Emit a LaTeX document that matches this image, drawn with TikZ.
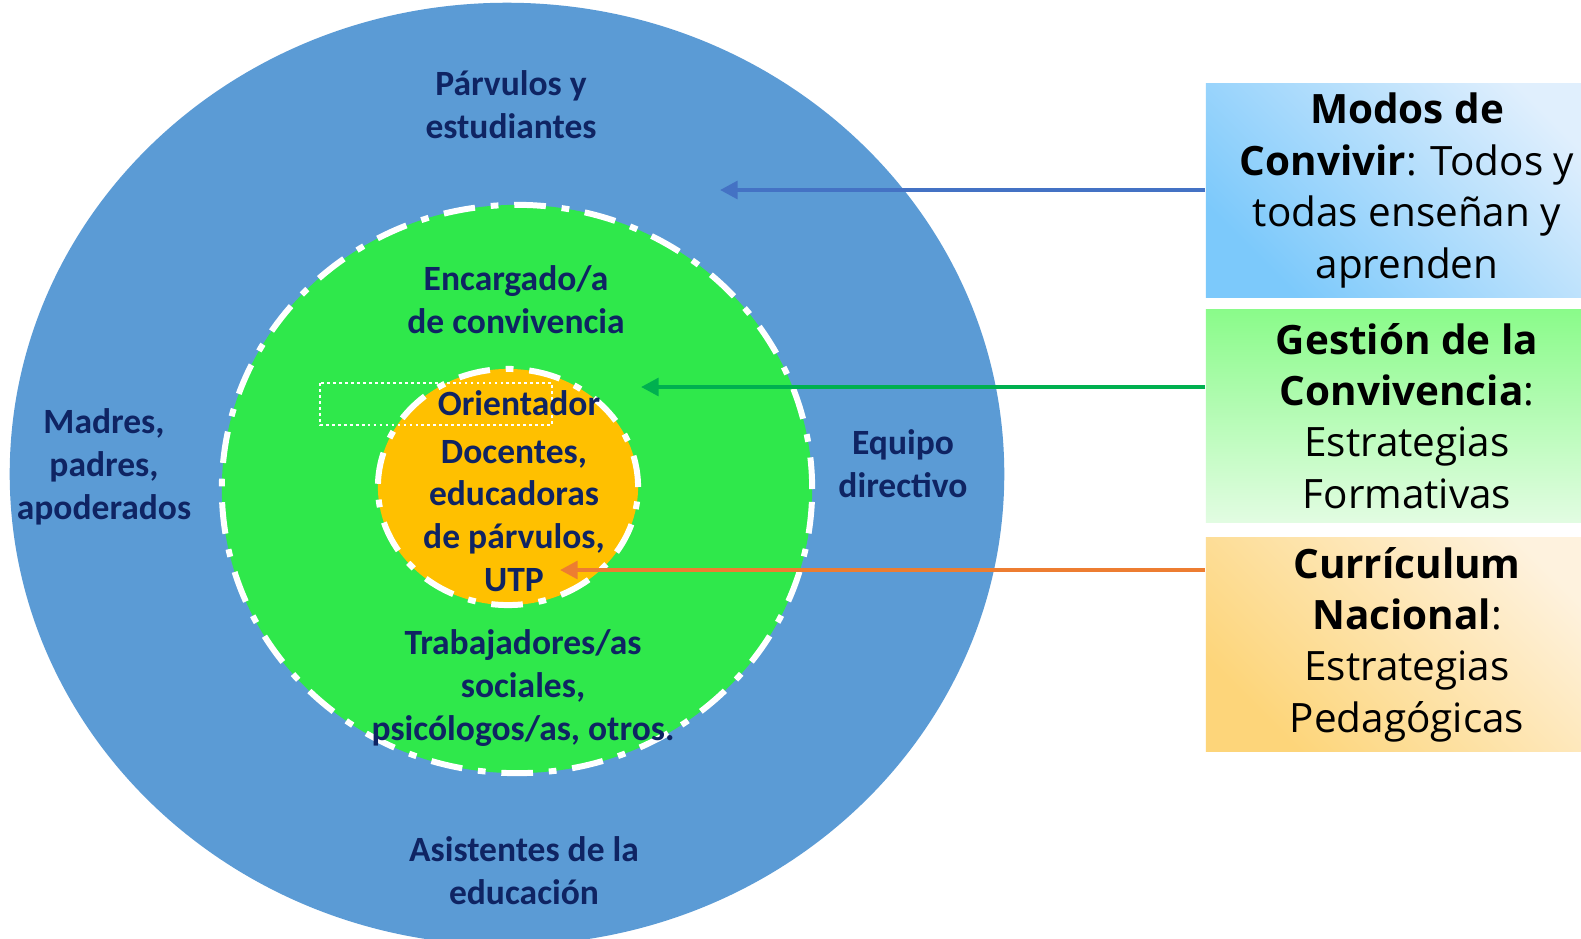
\documentclass[tikz,border=0pt]{standalone}
\usepackage{fontspec}
\setmainfont{Open Sans}
\newfontfamily\ringfont{Carlito}
\usetikzlibrary{arrows.meta,shapes.geometric}

\definecolor{outerblue}{HTML}{5B9BD5}
\definecolor{ringgreen}{HTML}{2FE84B}
\definecolor{coreorange}{HTML}{FFC000}
\definecolor{ringtext}{HTML}{0F2463}
\definecolor{arrblue}{HTML}{4472C4}
\definecolor{arrgreen}{HTML}{00B050}
\definecolor{arrorange}{HTML}{ED7D31}
\definecolor{bboxdark}{HTML}{7CC9FB}
\definecolor{bboxlight}{HTML}{E0EFFD}
\definecolor{gboxdark}{HTML}{8AFB8A}
\definecolor{gboxlight}{HTML}{E2FCE2}
\definecolor{oboxdark}{HTML}{FDD57A}
\definecolor{oboxlight}{HTML}{FEF2DE}

\begin{document}
\begin{tikzpicture}[x=0.01cm,y=-0.01cm,
  ring/.style={font=\ringfont\bfseries\fontsize{10.1}{12.2}\selectfont,text=ringtext,align=center},
  rimline/.style={draw=white,line width=1.7pt,dash pattern=on 9pt off 4.5pt on 2.2pt off 4.5pt},
  infobox/.style={minimum width=4.02cm,minimum height=2.13cm,inner sep=0pt,align=center,
    font=\fontsize{11.5}{14.6}\selectfont},
  link/.style={line width=1.15pt,-{Triangle[length=5pt,width=5pt]}}]
\path[use as bounding box,fill=white] (0,0) rectangle (1581,939);

\node[ellipse,fill=outerblue,minimum width=9.94cm,minimum height=9.42cm] (outer) at (507,474) {};
\node[ellipse,fill=ringgreen,rimline,minimum width=5.9cm,minimum height=5.68cm] (middle) at (517,489) {};
\node[ellipse,fill=coreorange,rimline,minimum width=2.6cm,minimum height=2.36cm] (core) at (508,487) {};
\draw[white,line width=0.8pt,dash pattern=on 0.8pt off 0.9pt] (320,383) rectangle (552,425);

\node[ring] (parvulos) at (511,105) {Párvulos y\\estudiantes};
\node[ring] (encargado) at (516,300) {Encargado/a\\de convivencia};
\node[ring] (orientador) at (519,403) {Orientador};
\node[ring] (docentes) at (514,516) {Docentes,\\educadoras\\de párvulos,\\UTP};
\node[ring] (trabajadores) at (523,688) {Trabajadores/as\\sociales,\\psicólogos/as, otros.};
\node[ring] (madres) at (104,467) {Madres,\\padres,\\apoderados};
\node[ring] (equipo) at (903,464) {Equipo\\directivo};
\node[ring] (asistentes) at (524,871) {Asistentes de la\\educación};

\node[infobox,top color=bboxlight,bottom color=bboxdark,shading angle=-45] (bbox) at (1407,190.5)
  {\textbf{Modos de}\\\textbf{Convivir}: Todos y\\todas enseñan y\\aprenden};
\node[infobox,top color=gboxdark,bottom color=gboxlight] (gbox) at (1407,416)
  {\textbf{Gestión de la}\\\textbf{Convivencia}:\\Estrategias\\Formativas};
\node[infobox,top color=oboxlight,bottom color=oboxdark,shading angle=-45] (obox) at (1407,644.5)
  {\textbf{Currículum}\\\textbf{Nacional}:\\Estrategias\\Pedagógicas};

\coordinate (btip) at (720,190);
\coordinate (gtip) at (641,387);
\coordinate (otip) at (560,570);
\draw[link,arrblue] (btip -| bbox.west) -- (btip);
\draw[link,arrgreen] (gtip -| gbox.west) -- (gtip);
\draw[link,arrorange] (otip -| obox.west) -- (otip);
\end{tikzpicture}
\end{document}
